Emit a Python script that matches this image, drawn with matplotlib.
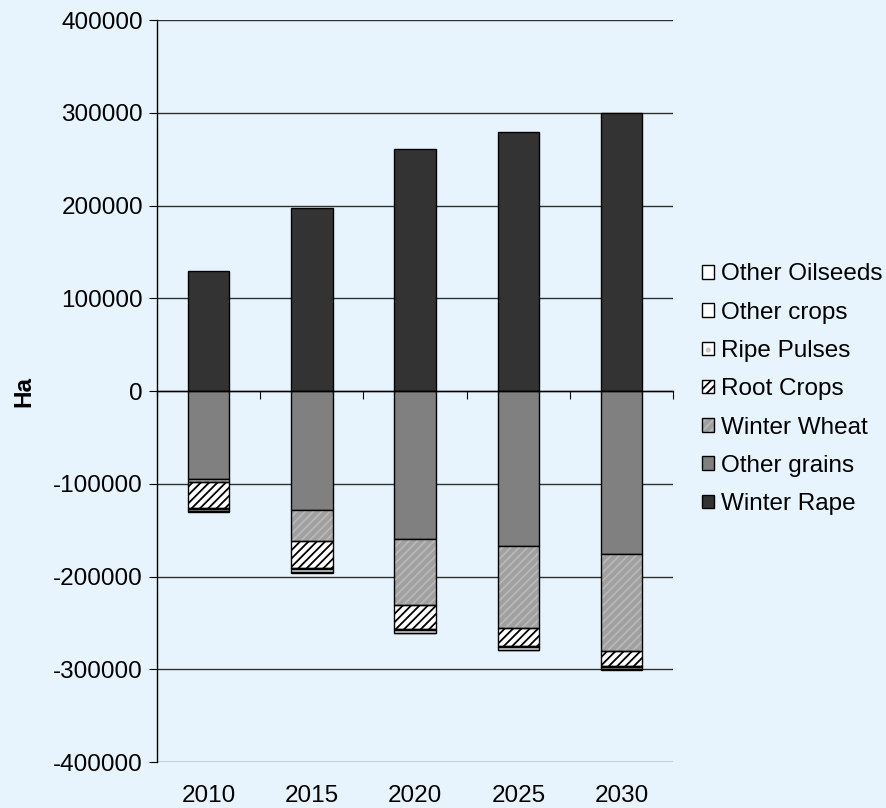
import numpy as np
import matplotlib
matplotlib.use("Agg")
import matplotlib.pyplot as plt
from matplotlib.patches import Patch

plt.rcParams['font.family'] = ['Liberation Sans', 'DejaVu Sans']
plt.rcParams['hatch.linewidth'] = 1.3
plt.rcParams['axes.unicode_minus'] = False

years = ['2010', '2015', '2020', '2025', '2030']
winter_rape = [130000, 197000, 261000, 279000, 300000]
other_grains = [-94500, -128000, -159000, -167000, -175000]
winter_wheat = [-3000, -33000, -72000, -88000, -105000]
root_crops = [-28500, -30000, -25000, -19500, -16000]
ripe_pulses = [-1000, -1000, -1500, -1500, -1500]
other_crops = [-2500, -3000, -3000, -2500, -2500]
other_oilseeds = [-500, -1000, -500, -500, -500]

bg = '#e7f4fd'
# name, values, face, hatch, hatch colour
series = [
    ('Winter Rape', winter_rape, '#333333', None, None),
    ('Other grains', other_grains, '#808080', None, None),
    ('Winter Wheat', winter_wheat, '#a0a0a0', '////', '#b8b8b8'),
    ('Root Crops', root_crops, 'white', '////', 'black'),
    ('Ripe Pulses', ripe_pulses, 'white', '.', '#c8c8c8'),
    ('Other crops', other_crops, 'white', None, None),
    ('Other Oilseeds', other_oilseeds, 'white', '.', '#c8c8c8'),
]

fig = plt.figure(figsize=(8.87, 8.08), dpi=100, facecolor=bg)
ax = fig.add_axes([0.177, 0.0566, 0.582, 0.9186], facecolor=bg)

x = np.arange(len(years))
w = 0.4
neg_base = np.zeros(len(years))
handles = {}
for name, vals, face, hatch, hcol in series:
    vals = np.array(vals, dtype=float)
    if vals[0] > 0:
        base = np.zeros(len(years))
    else:
        base = neg_base.copy()
        neg_base = neg_base + vals
    if hatch:
        ax.bar(x, vals, w, bottom=base, color=face, hatch=hatch,
               edgecolor=hcol, linewidth=0, zorder=3)
        ax.bar(x, vals, w, bottom=base, fill=False, edgecolor='black',
               linewidth=1.0, zorder=4)
        h = (Patch(facecolor=face, hatch=hatch, edgecolor=hcol, linewidth=0),
             Patch(fill=False, edgecolor='black', linewidth=1.0))
    else:
        ax.bar(x, vals, w, bottom=base, color=face, edgecolor='black',
               linewidth=1.0, zorder=3)
        h = Patch(facecolor=face, edgecolor='black', linewidth=1.0)
    handles[name] = h

ax.set_xlim(-0.5, len(years) - 0.5)
ax.set_ylim(-400000, 400000)
ax.set_yticks(np.arange(-400000, 400001, 100000))
ax.yaxis.grid(True, color='#303030', linewidth=1.0, zorder=0)
ax.set_axisbelow(True)

for s in ['top', 'right']:
    ax.spines[s].set_visible(False)
ax.spines['bottom'].set_position(('data', 0))
ax.spines['bottom'].set_zorder(5)
ax.spines['left'].set_linewidth(1.0)
ax.spines['bottom'].set_linewidth(1.0)

ax.set_xticks(np.arange(len(years) + 1) - 0.5)
ax.tick_params(axis='x', direction='out', length=6, labelbottom=False)
ax.tick_params(axis='y', direction='out', length=6, labelsize=17.5, pad=4)
for i, yr in enumerate(years):
    ax.text(i, -0.046, yr, transform=ax.get_xaxis_transform(),
            ha='center', va='center', fontsize=17.5)

ax.set_ylabel('Ha', fontsize=17.5, fontweight='bold')
ax.yaxis.set_label_coords(-0.235, 0.5)

order = ['Other Oilseeds', 'Other crops', 'Ripe Pulses', 'Root Crops',
         'Winter Wheat', 'Other grains', 'Winter Rape']
fig.legend([handles[n] for n in order], order, loc='upper left',
           bbox_to_anchor=(0.781, 0.686), frameon=False, fontsize=17.5,
           handlelength=0.48, handleheight=0.48, handletextpad=0.3,
           labelspacing=0.67, borderaxespad=0)

fig.savefig('out.png', dpi=100, facecolor=bg)
